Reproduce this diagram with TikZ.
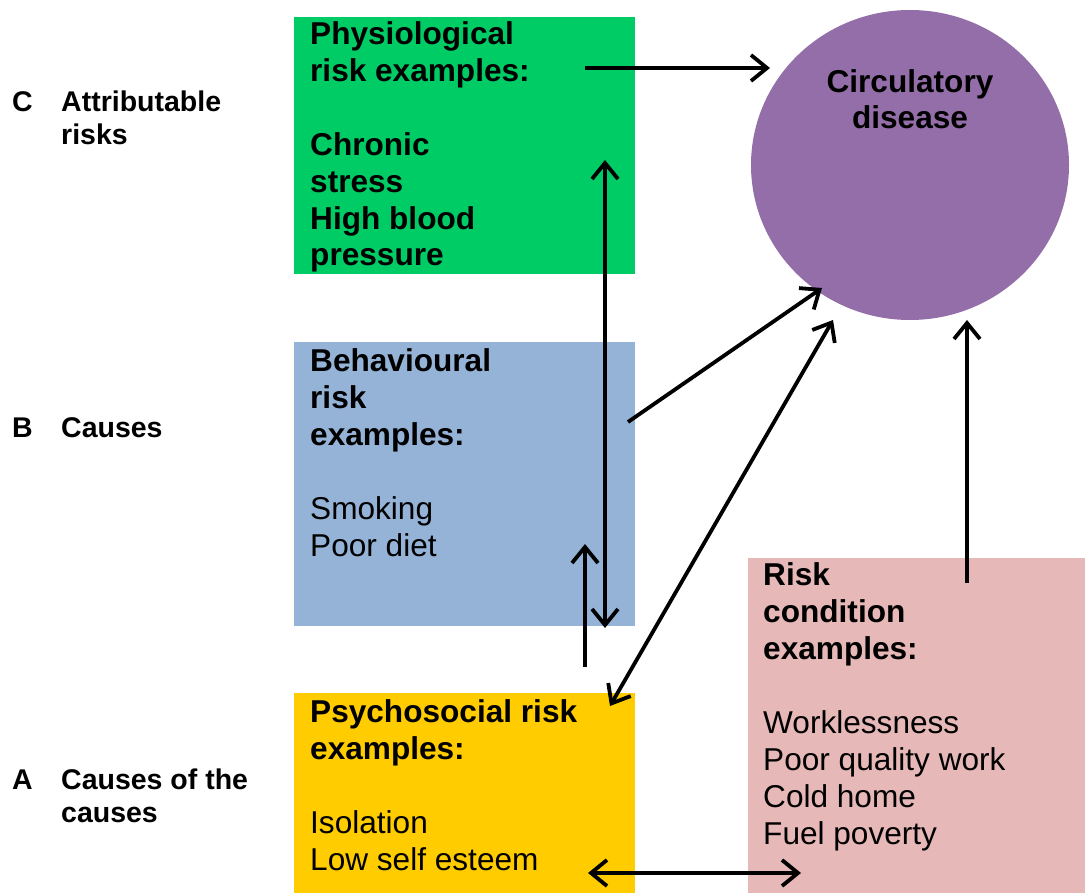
\documentclass[tikz,border=0pt]{standalone}
\usepackage{fontspec}
\setmainfont{Liberation Sans}
\usetikzlibrary{arrows.meta,shapes.geometric}
\definecolor{cgreen}{RGB}{0,204,102}
\definecolor{cblue}{RGB}{149,179,215}
\definecolor{cyellow}{RGB}{255,204,0}
\definecolor{cpink}{RGB}{230,184,183}
\definecolor{cpurple}{RGB}{148,110,168}
\tikzset{
  txt/.style={anchor=base west, inner sep=0, align=left, font=\fontsize{31.6}{36.9}\selectfont},
  lbl/.style={anchor=base west, inner sep=0, align=left, font=\fontsize{28.5}{33}\selectfont\bfseries},
  barb/.tip={Straight Barb[length=16pt,width=26pt,line width=3.8pt]},
  arr/.style={line width=3.8pt, -barb},
  darr/.style={line width=3.8pt, barb-barb}
}
\begin{document}
\begin{tikzpicture}[x=1pt,y=-1pt]
\useasboundingbox (0,0) rectangle (1085,893);
% boxes
\fill[cgreen] (294,17) rectangle (635,274);
\fill[cblue] (294,342) rectangle (635,626);
\fill[cyellow] (294,693) rectangle (635,893);
\fill[cpink] (748,558) rectangle (1085,893);
\node[ellipse, fill=cpurple, minimum width=318pt, minimum height=310pt, inner sep=0] (circ) at (910,165) {};
% texts (anchored at the baseline of the last line)
\node[txt] (phys) at (310,266) {\bfseries Physiological\\\bfseries risk examples:\\[36.9pt]\bfseries Chronic\\\bfseries stress\\\bfseries High blood\\\bfseries pressure};
\node[txt] (behav) at (310,556) {\bfseries Behavioural\\\bfseries risk\\\bfseries examples:\\[36.9pt]Smoking\\Poor diet};
\node[txt] (psych) at (310,870) {\bfseries Psychosocial risk\\\bfseries examples:\\[36.9pt]Isolation\\Low self esteem};
\node[txt] (cond) at (763,844) {\bfseries Risk\\\bfseries condition\\\bfseries examples:\\[36.9pt]Worklessness\\Poor quality work\\Cold home\\Fuel poverty};
\node[txt, anchor=base, align=center] (circtxt) at (910,129) {\bfseries Circulatory\\\bfseries disease};
% left labels
\node[lbl] (lc) at (12,112) {C};
\node[lbl] (lctxt) at (61,145) {Attributable\\risks};
\node[lbl] (lb) at (12,438) {B};
\node[lbl] (lbtxt) at (61,438) {Causes};
\node[lbl] (la) at (12,789) {A};
\node[lbl] (latxt) at (61,822) {Causes of the\\causes};
% arrow end points
\coordinate (p1a) at (585,68); \coordinate (p1b) at (770,68);
\coordinate (p2a) at (605,160); \coordinate (p2b) at (605,628);
\coordinate (p3a) at (585,667); \coordinate (p3b) at (585,544);
\coordinate (p4a) at (628,422); \coordinate (p4b) at (822,288);
\coordinate (p5a) at (610,706); \coordinate (p5b) at (833,320);
\coordinate (p6a) at (967,583); \coordinate (p6b) at (967,320);
\coordinate (p7a) at (588,873); \coordinate (p7b) at (801,873);
\draw[arr] (p1a) -- (p1b);
\draw[darr] (p2a) -- (p2b);
\draw[arr] (p3a) -- (p3b);
\draw[arr] (p4a) -- (p4b);
\draw[darr] (p5a) -- (p5b);
\draw[arr] (p6a) -- (p6b);
\draw[darr] (p7a) -- (p7b);
\end{tikzpicture}
\end{document}
